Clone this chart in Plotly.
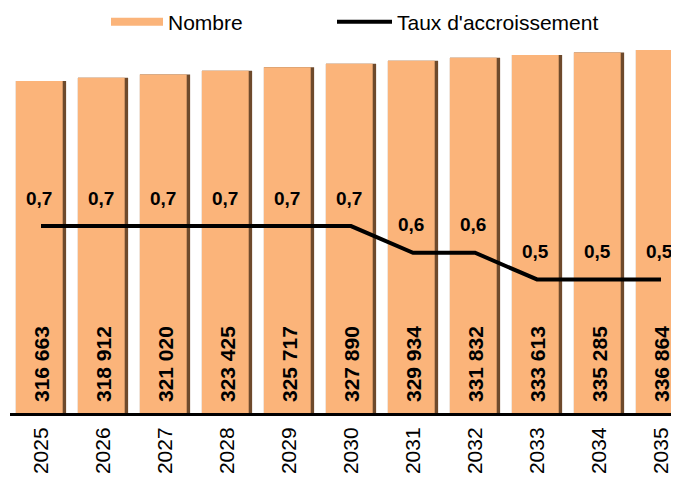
import plotly.graph_objects as go

years = ["2025", "2026", "2027", "2028", "2029", "2030", "2031", "2032", "2033", "2034", "2035"]
nombre = [316663, 318912, 321020, 323425, 325717, 327890, 329934, 331832, 333613, 335285, 336864]
taux = [0.7, 0.7, 0.7, 0.7, 0.7, 0.7, 0.6, 0.6, 0.5, 0.5, 0.5]

FONT = "Liberation Sans, Arial, sans-serif"
BAR = "#FBB47A"
SHADOW = "#6E4A2C"

fig = go.Figure()

# dark right-edge shadow (bevel effect)
fig.add_trace(go.Bar(
    x=years, y=nombre, width=0.81, offset=-0.405,
    marker=dict(color=SHADOW, line=dict(width=0)),
    showlegend=False, hoverinfo="skip",
))
fig.add_trace(go.Bar(
    x=years, y=nombre, width=0.755, offset=-0.405, name="Nombre",
    marker=dict(color=BAR, line=dict(width=0)),
    showlegend=False, legendgroup="nombre",
))
# legend entry for the bars (wide flat swatch as in the reference)
fig.add_trace(go.Scatter(
    x=[None], y=[None], name="Nombre", mode="lines", legendgroup="nombre",
    line=dict(color=BAR, width=8), legend="legend",
))
fig.add_trace(go.Scatter(
    x=years, y=taux, name="Taux d'accroissement", yaxis="y2",
    mode="lines", line=dict(color="black", width=4), legend="legend2",
))

annotations = []
for i, v in enumerate(nombre):
    annotations.append(dict(
        x=i, y=100000, xref="x", yref="y",
        text="<b>" + f"{v:,}".replace(",", " ") + "</b>",
        textangle=-90, showarrow=False, yanchor="bottom", yshift=9,
        font=dict(family=FONT, size=21, color="black"),
    ))
for i, t in enumerate(taux):
    annotations.append(dict(
        x=i, y=t, xref="x", yref="y2",
        text="<b>" + f"{t:.1f}".replace(".", ",") + "</b>",
        showarrow=False, yanchor="middle", yshift=28, xshift=-2,
        font=dict(family=FONT, size=19, color="black"),
    ))

fig.update_layout(
    template="none",
    width=679, height=477,
    margin=dict(l=2, r=8, t=22, b=72, autoexpand=False),
    paper_bgcolor="white", plot_bgcolor="white",
    barmode="overlay",
    font=dict(family=FONT, size=21, color="black"),
    xaxis=dict(
        type="category", range=[-0.5, 10.29], automargin=False,
        showline=True, linecolor="black", linewidth=3,
        ticks="", tickangle=-90, tickfont=dict(size=21, color="black"),
        ticklabelstandoff=3,
        showgrid=False, zeroline=False,
    ),
    yaxis=dict(range=[100000, 350000], showgrid=False, zeroline=False, automargin=False,
               showticklabels=False, showline=False, ticks=""),
    yaxis2=dict(range=[0, 1.434], overlaying="y", side="right", automargin=False,
                showgrid=False, zeroline=False, showticklabels=False,
                showline=False, ticks=""),
    legend=dict(orientation="h", x=98 / 679, xref="container", y=0.9706, yref="container",
                yanchor="middle", xanchor="left",
                font=dict(size=21), itemwidth=52, bgcolor="rgba(0,0,0,0)"),
    legend2=dict(orientation="h", x=324 / 679, xref="container", y=0.9706, yref="container",
                 yanchor="middle", xanchor="left",
                 font=dict(size=21), itemwidth=55, bgcolor="rgba(0,0,0,0)"),
    annotations=annotations,
)

fig.write_html("out.html")
